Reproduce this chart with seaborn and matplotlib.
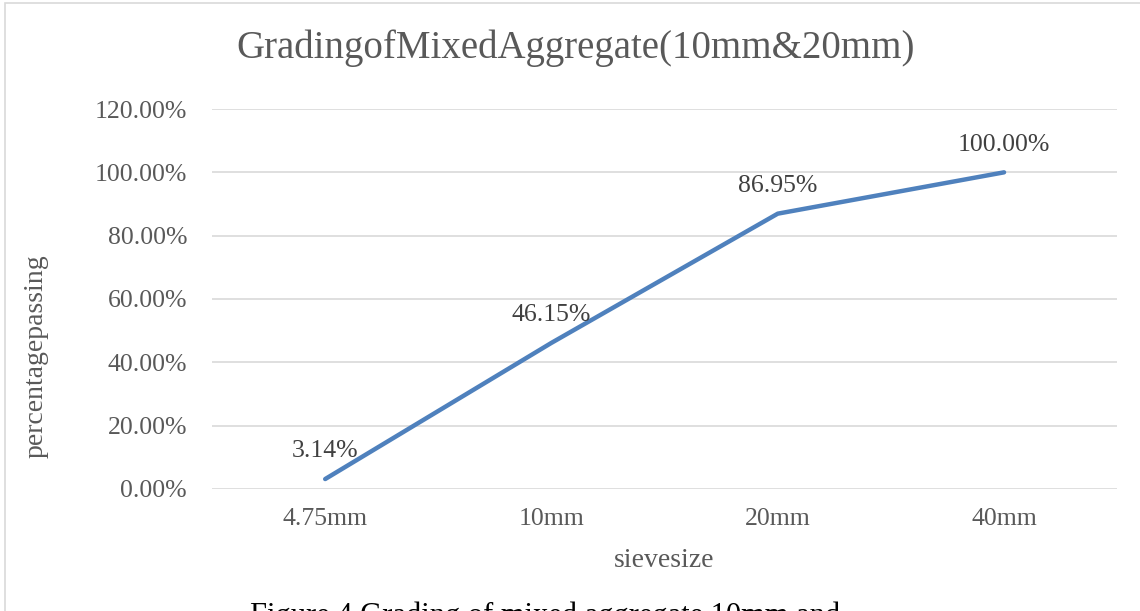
import pandas as pd
import matplotlib.pyplot as plt
import seaborn as sns
from matplotlib.patches import Rectangle
from matplotlib.ticker import PercentFormatter

# ── Data ─────────────────────────────────────────────────────────────────────
sieve_sizes = ["4.75mm", "10mm", "20mm", "40mm"]
passing = [0.0314, 0.4615, 0.8695, 1.0000]
point_labels = ["3.14%", "46.15%", "86.95%", "100.00%"]

df = pd.DataFrame({"sieve": sieve_sizes, "passing": passing})

# ── Plot ─────────────────────────────────────────────────────────────────────
sns.set_theme(style="white")
plt.rcParams["font.family"] = ["Liberation Serif", "DejaVu Serif"]

fig = plt.figure(figsize=(11.4, 6.11), dpi=100)
ax = fig.add_axes([0.186, 0.1997, 0.794, 0.6219])

sns.lineplot(data=df, x="sieve", y="passing", ax=ax, color="#4F81BD",
             linewidth=3.2, sort=False)

for i, (v, lab) in enumerate(zip(passing, point_labels)):
    ax.annotate(lab, (i, v), xytext=(0, 12), textcoords="offset points",
                ha="center", va="bottom", fontsize=18.5, color="#404040")

ax.set_xlim(-0.5, len(sieve_sizes) - 0.5)
ax.set_ylim(0, 1.2)
ax.set_yticks([0, 0.2, 0.4, 0.6, 0.8, 1.0, 1.2])
ax.yaxis.set_major_formatter(PercentFormatter(1.0, decimals=2))
ax.grid(axis="y", color="#D9D9D9", linewidth=1.2)
ax.grid(axis="x", visible=False)
sns.despine(ax=ax, left=True, bottom=True)
ax.tick_params(axis="both", length=0, labelsize=18.5, labelcolor="#595959")
ax.tick_params(axis="x", pad=14)
ax.tick_params(axis="y", pad=18)

ax.set_xlabel("sievesize", fontsize=20, color="#595959")
ax.set_ylabel("percentagepassing", fontsize=20, color="#595959")
ax.xaxis.set_label_coords(0.5, -0.155)
ax.yaxis.set_label_coords(-0.181, 0.35)
fig.text(0.505, 0.921, "GradingofMixedAggregate(10mm&20mm)", ha="center",
         va="center", fontsize=28, color="#595959")

# chart frame and the clipped caption below it
fig.patches.append(Rectangle((5 / 1140, -0.2), 1.2, 1.2 - 3 / 611,
                             transform=fig.transFigure, fill=False,
                             edgecolor="#D9D9D9", linewidth=1.2))
fig.text(0.219, 0.016, "Figure 4 Grading of mixed aggregate 10mm and",
         ha="left", va="top", fontsize=22, color="black")

fig.savefig("out.png", dpi=100)
